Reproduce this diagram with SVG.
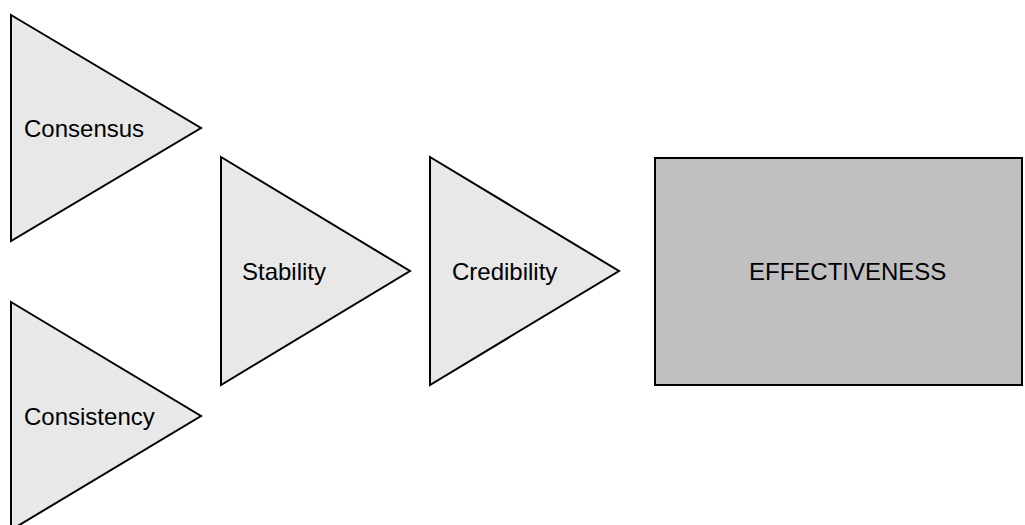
<svg xmlns="http://www.w3.org/2000/svg" width="1025" height="525" viewBox="0 0 1025 525">
  <style>
    .tri { fill: #e8e8e8; stroke: #000; stroke-width: 2; stroke-linejoin: miter; }
    .box { fill: #c0c0c0; stroke: #000; stroke-width: 2; }
    .lbl { font-family: "Liberation Sans", Arial, sans-serif; font-size: 24px; fill: #000; }
  </style>
  <rect width="1025" height="525" fill="#fff"/>
  <g id="consensus">
    <polygon class="tri" points="11,15 201,128 11,241"/>
    <text class="lbl" x="24" y="137">Consensus</text>
  </g>
  <g id="consistency">
    <polygon class="tri" points="11,302 201,416 11,530"/>
    <text class="lbl" x="24" y="425">Consistency</text>
  </g>
  <g id="stability">
    <polygon class="tri" points="221,157 410,271 221,385"/>
    <text class="lbl" x="242" y="280">Stability</text>
  </g>
  <g id="credibility">
    <polygon class="tri" points="430,157 619,271 430,385"/>
    <text class="lbl" x="452" y="280">Credibility</text>
  </g>
  <g id="effectiveness">
    <rect class="box" x="655" y="158" width="367" height="227"/>
    <text class="lbl" x="749" y="280">EFFECTIVENESS</text>
  </g>
  <g id="connectors"></g>
</svg>
